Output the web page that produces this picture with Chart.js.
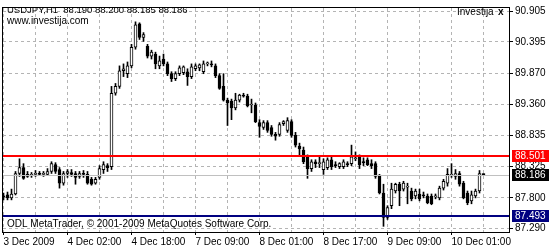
<!DOCTYPE html>
<html>
<head>
<meta charset="utf-8">
<script src="https://cdn.jsdelivr.net/npm/chart.js@4.4.1/dist/chart.umd.min.js"></script>
<style>
  html, body { margin: 0; padding: 0; background: #fff; }
  #wrap { width: 550px; height: 250px; }
</style>
</head>
<body>
<div id="wrap"><canvas id="chart" width="550" height="250"></canvas></div>
<script>
// USDJPY H1, one bar per hour, 3 Dec 2009 10:00 .. 10 Dec 2009 10:00
const timeLabels = ['3 Dec 2009', '4 Dec 02:00', '4 Dec 18:00', '7 Dec 09:00',
  '8 Dec 01:00', '8 Dec 17:00', '9 Dec 09:00', '10 Dec 01:00'];
const priceTicks = [90.905, 90.395, 89.870, 89.360, 88.835, 88.325, 87.800, 87.290];

const open = [
  87.832, 87.849, 87.800, 87.865, 88.206, 88.304, 88.190, 88.174, 88.190, 88.206,
  88.190, 88.190, 88.239, 88.352, 88.271, 88.044, 88.206, 88.222, 88.206, 88.157,
  88.206, 88.190, 88.109, 88.044, 88.141, 88.271, 88.336, 88.320, 89.539, 89.653,
  89.913, 89.864, 89.994, 90.303, 90.694, 90.466, 90.320, 90.157, 90.190, 89.994,
  90.108, 90.027, 89.864, 89.783, 89.864, 89.881, 89.897, 89.816, 89.946, 89.962,
  89.897, 90.027, 90.027, 89.994, 89.832, 89.653, 89.425, 89.409, 89.295, 89.425,
  89.507, 89.491, 89.344, 89.344, 89.051, 88.970, 89.051, 88.970, 88.856, 88.856,
  89.035, 88.921, 89.068, 88.840, 88.661, 88.596, 88.482, 88.287, 88.401, 88.369,
  88.271, 88.304, 88.434, 88.352, 88.320, 88.320, 88.369, 88.369, 88.450, 88.482,
  88.401, 88.434, 88.369, 88.369, 88.157, 87.881, 87.475, 87.670, 87.914, 88.027,
  87.946, 87.979, 87.914, 87.832, 87.865, 87.849, 87.832, 87.832, 87.816, 87.800,
  87.962, 88.044, 88.174, 88.157, 88.206, 88.044, 87.881, 87.751, 87.832, 87.914,
  88.190
];
const high = [
  87.881, 87.897, 87.946, 88.239, 88.450, 88.369, 88.239, 88.222, 88.255, 88.239,
  88.239, 88.287, 88.401, 88.385, 88.304, 88.239, 88.271, 88.271, 88.239, 88.239,
  88.255, 88.239, 88.141, 88.141, 88.336, 88.401, 88.369, 89.653, 89.702, 89.994,
  90.027, 90.059, 90.352, 90.726, 90.710, 90.547, 90.352, 90.255, 90.222, 90.157,
  90.190, 90.059, 89.897, 89.897, 89.994, 89.994, 89.946, 90.027, 90.027, 90.027,
  90.076, 90.059, 90.076, 90.027, 89.864, 89.864, 89.458, 89.442, 89.539, 89.523,
  89.539, 89.523, 89.442, 89.377, 89.100, 89.084, 89.084, 89.003, 88.889, 89.051,
  89.084, 89.133, 89.100, 88.889, 88.710, 88.645, 88.515, 88.434, 88.434, 88.482,
  88.450, 88.466, 88.482, 88.401, 88.385, 88.434, 88.401, 88.677, 88.564, 88.515,
  88.466, 88.466, 88.434, 88.401, 88.190, 88.027, 87.670, 88.044, 88.044, 88.060,
  88.076, 88.044, 87.962, 87.946, 87.946, 87.897, 87.865, 87.865, 87.865, 87.995,
  88.109, 88.287, 88.369, 88.271, 88.239, 88.076, 87.914, 87.914, 87.946, 88.255,
  88.200
];
const low = [
  87.767, 87.767, 87.767, 87.849, 88.157, 88.109, 88.141, 88.141, 88.157, 88.174,
  88.157, 88.174, 88.206, 88.206, 87.962, 88.011, 88.141, 88.157, 88.027, 88.125,
  88.141, 88.027, 88.011, 88.027, 88.109, 88.206, 88.239, 88.271, 89.507, 89.620,
  89.816, 89.799, 89.962, 90.271, 90.433, 90.401, 90.125, 90.108, 89.946, 89.946,
  89.994, 89.832, 89.734, 89.750, 89.832, 89.848, 89.669, 89.783, 89.913, 89.913,
  89.864, 89.994, 89.978, 89.799, 89.604, 89.409, 89.003, 89.100, 89.263, 89.393,
  89.474, 89.312, 89.214, 89.051, 88.807, 88.938, 88.889, 88.824, 88.759, 88.824,
  89.003, 88.889, 88.807, 88.645, 88.515, 88.369, 88.125, 88.239, 88.304, 88.304,
  88.190, 88.271, 88.271, 88.304, 88.287, 88.287, 88.320, 88.336, 88.417, 88.287,
  88.336, 88.336, 88.287, 88.125, 87.865, 87.327, 87.442, 87.621, 87.881, 87.670,
  87.914, 87.702, 87.751, 87.784, 87.751, 87.800, 87.702, 87.686, 87.784, 87.767,
  87.930, 87.995, 88.141, 88.109, 87.995, 87.784, 87.686, 87.702, 87.800, 87.881,
  88.185
];
const close = [
  87.816, 87.800, 87.865, 88.206, 88.304, 88.125, 88.157, 88.190, 88.206, 88.190,
  88.206, 88.239, 88.369, 88.239, 88.044, 88.206, 88.239, 88.190, 88.141, 88.206,
  88.190, 88.044, 88.027, 88.109, 88.287, 88.352, 88.304, 89.539, 89.653, 89.913,
  89.946, 89.994, 90.303, 90.677, 90.466, 90.515, 90.157, 90.222, 90.027, 90.076,
  90.027, 89.864, 89.783, 89.864, 89.962, 89.978, 89.816, 89.978, 89.994, 90.011,
  90.027, 90.043, 90.011, 89.832, 89.620, 89.425, 89.377, 89.295, 89.425, 89.507,
  89.491, 89.328, 89.360, 89.068, 88.986, 89.051, 88.921, 88.856, 88.824, 89.019,
  89.068, 89.084, 88.840, 88.677, 88.612, 88.401, 88.287, 88.401, 88.369, 88.385,
  88.401, 88.434, 88.320, 88.336, 88.369, 88.401, 88.352, 88.482, 88.466, 88.352,
  88.385, 88.352, 88.336, 88.157, 87.881, 87.475, 87.637, 87.946, 88.027, 87.914,
  88.044, 87.995, 87.784, 87.914, 87.784, 87.832, 87.719, 87.702, 87.832, 87.962,
  88.076, 88.190, 88.190, 88.206, 88.027, 87.800, 87.719, 87.849, 87.914, 88.206,
  88.186
];

const resistance = 88.501;
const support = 87.493;
const bid = 88.186;
const headerText = 'USDJPY,H1  88.190 88.200 88.185 88.186';
const siteText = 'www.investija.com';
const footerText = 'ODL MetaTrader, \u00a9 2001-2009 MetaQuotes Software Corp.';

const FONT = '"Liberation Sans", Arial, sans-serif';

const bodies = open.map((o, i) => ({ x: i, y: [o, close[i]] }));
const wicks = low.map((l, i) => ({ x: i, y: [l, high[i]] }));

// lines + price boxes + texts, drawn over everything like MT4 objects
const overlay = {
  id: 'overlay',
  afterDraw(chart) {
    const { ctx, chartArea: a, scales } = chart;
    const y = scales.y;
    ctx.save();
    ctx.strokeStyle = '#000';
    ctx.lineWidth = 1;
    ctx.strokeRect(a.left - 0.5, a.top - 0.5, a.right - a.left + 1, a.bottom - a.top + 1);

    const hline = (v, color, w) => {
      const py = Math.round(y.getPixelForValue(v));
      ctx.strokeStyle = color;
      ctx.lineWidth = w;
      ctx.beginPath();
      ctx.moveTo(a.left, w % 2 ? py + 0.5 : py);
      ctx.lineTo(a.right, w % 2 ? py + 0.5 : py);
      ctx.stroke();
      return py;
    };
    const box = (v, bg) => {
      const py = Math.round(y.getPixelForValue(v));
      ctx.fillStyle = bg;
      ctx.fillRect(a.right + 3, py - 6, 37, 12);
      ctx.fillStyle = '#fff';
      ctx.font = '10px ' + FONT;
      ctx.textAlign = 'left';
      ctx.textBaseline = 'middle';
      ctx.fillText(v.toFixed(3), a.right + 6, py + 0.5);
    };
    hline(bid, '#c0c0c0', 1);
    hline(resistance, '#ff0000', 2);
    hline(support, '#000080', 2);
    box(resistance, '#ff0000');
    box(bid, '#000000');
    box(support, '#000080');

    ctx.fillStyle = '#000';
    ctx.textAlign = 'left';
    ctx.textBaseline = 'middle';
    ctx.font = '9.5px ' + FONT;
    ctx.fillText(headerText, a.left + 4, 10.5);
    ctx.font = '10px ' + FONT;
    ctx.fillText(siteText, a.left + 4, 21.5);
    ctx.fillText(footerText, a.left + 4, 224.5);
    ctx.fillText('Investija', 457, 12);
    ctx.font = 'bold 10px ' + FONT;
    ctx.fillText('x', 498, 12);
    ctx.restore();
  }
};

new Chart(document.getElementById('chart'), {
  type: 'bar',
  data: {
    datasets: [
      {
        data: bodies,
        grouped: false,
        barThickness: 3,
        minBarLength: 1,
        borderWidth: 1,
        borderSkipped: false,
        borderColor: '#000',
        backgroundColor: bodies.map(b => b.y[1] >= b.y[0] ? '#fff' : '#000')
      },
      {
        data: wicks,
        grouped: false,
        barThickness: 1,
        borderWidth: 0,
        backgroundColor: '#000'
      }
    ]
  },
  options: {
    responsive: false,
    animation: false,
    devicePixelRatio: 1,
    layout: { padding: { left: 3, top: 3, right: 0, bottom: 0 } },
    plugins: { legend: { display: false }, tooltip: { enabled: false } },
    scales: {
      x: {
        type: 'linear',
        min: -0.125,
        max: 126.375,
        offset: false,
        afterBuildTicks: (s) => {
          s.ticks = timeLabels.flatMap((_, k) => [{ value: k * 16 }, { value: k * 16 + 8 }]);
        },
        afterFit: (s) => { s.height = 18; },
        border: { display: false, dash: [3, 3] },
        grid: {
          offset: false,
          color: '#b4b4b4',
          tickLength: 3,
          tickBorderDash: [],
          tickColor: (c) => (c.tick && c.tick.value % 16 === 0) ? '#000' : 'rgba(0,0,0,0)'
        },
        ticks: {
          autoSkip: false,
          maxRotation: 0,
          minRotation: 0,
          align: 'start',
          padding: 1,
          color: '#000',
          font: { family: FONT, size: 10 },
          callback: (v) => v % 16 === 0 ? timeLabels[v / 16] : ''
        }
      },
      y: {
        position: 'right',
        min: 87.233,
        max: 90.956,
        afterBuildTicks: (s) => { s.ticks = priceTicks.map(v => ({ value: v })); },
        afterFit: (s) => { s.width = 41; },
        border: { display: false, dash: [3, 3] },
        grid: {
          color: '#b4b4b4',
          tickLength: 4,
          tickBorderDash: [],
          tickColor: '#000'
        },
        ticks: {
          padding: 2,
          color: '#000',
          font: { family: FONT, size: 10 },
          callback: (v) => Number(v).toFixed(3)
        }
      }
    }
  },
  plugins: [overlay]
});
</script>
</body>
</html>
